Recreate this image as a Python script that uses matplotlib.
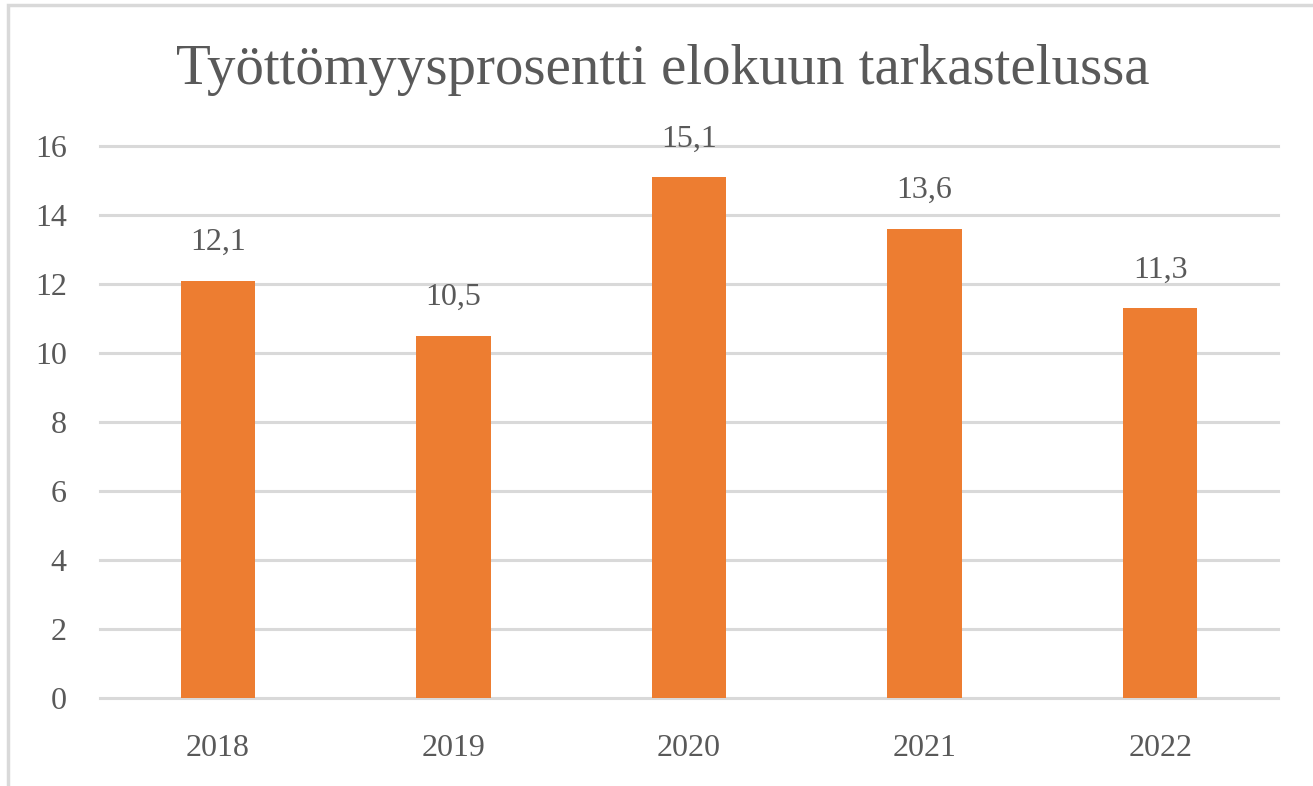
import matplotlib
matplotlib.use("Agg")
import matplotlib.pyplot as plt
from matplotlib.patches import Rectangle

years = ["2018", "2019", "2020", "2021", "2022"]
values = [12.1, 10.5, 15.1, 13.6, 11.3]
labels = ["12,1", "10,5", "15,1", "13,6", "11,3"]
yticks = [0, 2, 4, 6, 8, 10, 12, 14, 16]
title = "Työttömyysprosentti elokuun tarkastelussa"

plt.rcParams['font.family'] = ['Liberation Serif', 'DejaVu Serif']
txt = "#595959"

fig = plt.figure(figsize=(13.13, 7.86), dpi=100)
fig.patches.append(Rectangle((8/1313, -0.1), 1.2, 1.1 - 5/786, transform=fig.transFigure,
                             fill=False, edgecolor="#d9d9d9", linewidth=2.5))
ax = fig.add_axes([100/1313, 1-698/786, 1178/1313, (698-146)/786])
x = range(len(years))
bars = ax.bar(x, values, width=0.315, color="#ED7D31", zorder=3)
for xi, v, l in zip(x, values, labels):
    ax.annotate(l, (xi, v), xytext=(0, 17), textcoords="offset points",
                ha="center", va="bottom", fontsize=23, color=txt)
ax.set_xlim(-0.5, 4.5)
ax.set_ylim(0, 16)
ax.set_yticks(yticks)
ax.set_yticklabels([str(t) for t in yticks])
ax.set_xticks(list(x))
ax.set_xticklabels(years)
ax.yaxis.grid(True, color="#d9d9d9", linewidth=2.2, zorder=0)
for gl in ax.get_ygridlines():
    gl.set_clip_on(False)
ax.set_axisbelow(True)
for s in ax.spines.values():
    s.set_visible(False)
ax.tick_params(axis="both", length=0, labelsize=23, labelcolor=txt)
ax.tick_params(axis="y", pad=24)
ax.tick_params(axis="x", pad=26)
fig.text(663/1313, 1-70/786, title, ha="center", va="center", fontsize=41, color=txt)
fig.savefig("out.png", dpi=100)
